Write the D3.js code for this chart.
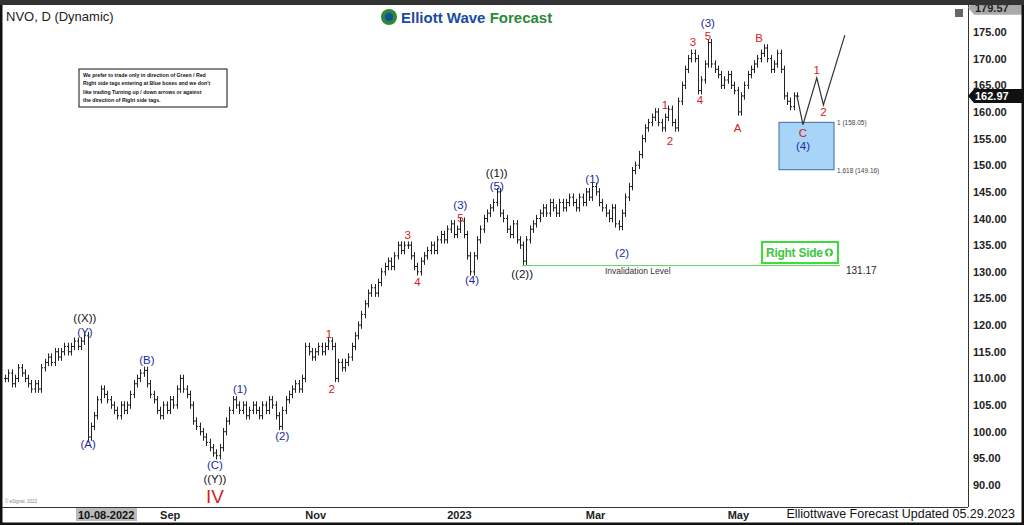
<!DOCTYPE html><html><head><meta charset="utf-8">
<script src="https://cdn.jsdelivr.net/npm/d3@7"></script>
<style>body{margin:0;background:#fff}svg{display:block;font-family:Arial,"Liberation Sans",sans-serif}</style></head><body>
<svg id="c" width="1024" height="525"></svg>
<script>
const closes=[110,111,109,110,112,111,110,109,108,109,108,
112,113,114,113,115,114,115,116,115,116,117,116,117,118,99,
101,103,106,108,107,106,105,104,103,105,
104,105,107,109,110,111,111.5,109,107,
106,104,103,105,104,106,105,108,110,108,
107,105,102,101,100,99,98,97,96,95.5,97,
100,102,104,106,105,104,105,103,104,105,
104,103,105,104,106,105,103,101,104,
106,107,108,109,108,110,116,115,
114,115,116,115,116,117,116,
110,113,112,113,114,
116,118,120,122,124,126,127,126,128,130,131,132,131,133,135,134,135,135,133,131,130,
132,133,134,135,134,136,137,136,138,139,137,138,139.5,137,
133,130,133,
136,138,140,141,142,143,145,141,
140,138,137,139,136,135,132,
136,138,139,140,141,142,141,143,142,141,143,142,143,144,143,142,144,143,145,144,146,145,143,
142,141,140,142,139,138.5,
141,144,146,149,150,152,155,157,158,159,160,158,157,159,160.5,158,157,
162,165,168,170,171,170,164,
166,169,173,
169,168,167,165,166,167,165,164,160,163,165,
167,168,169,170,171,172,170,168,
169,171,168,163,162,161,163,162.97];
const priceTicks=d3.range(90,176,5);
const dateTicks=[{i:47,t:"Sep"},{i:91,t:"Nov"},{i:134,t:"2023"},{i:176,t:"Mar"},{i:219,t:"May"}];
const waveLabels=[
["((X))",24.2,121.2,"k"],["(Y)",24.2,118.6,"b"],["(A)",25.2,97.6,"b"],["(B)",43,113.2,"b"],
["(1)",71.2,107.8,"b"],["(2)",84,99.0,"b"],["(C)",63.6,93.6,"b"],["((Y))",63.6,91.0,"k"],
["1",98.2,118.2,"r"],["2",99,107.8,"r"],["3",122,136.8,"r"],["4",125,128.0,"r"],
["(3)",138,142.4,"b"],["5",138,140.0,"r"],["(4)",141.5,128.3,"b"],["((1))",149,148.4,"k"],
["(5)",149,145.9,"b"],["((2))",156.7,129.4,"k"],["(1)",178,147.2,"b"],["(2)",187,133.3,"b"],
["1",200,161.2,"r"],["2",201.5,154.3,"r"],["3",208.5,172.9,"r"],["(3)",213,176.5,"b"],
["5",213,174.1,"r"],["4",210.6,162.0,"r"],["A",222,156.8,"r"],["B",228.5,173.7,"r"],
["1",246,167.7,"r"],["2",248,159.8,"r"],["C",241.8,155.9,"r"],["(4)",241.8,153.5,"b"]];
const projection=[[240,162.97],[241.8,157.6],[246,166.4],[248,161.3],[254.5,174.4]];
const boxTop=158.05, boxBot=149.16, invalid=131.17, lastPrice=162.97, hiPrice=179.57;
const col={b:"#1c2a9c",r:"#d42020",k:"#111"};
const AX=968;

const svg=d3.select("#c");
const x=d3.scaleLinear().domain([0,253]).range([5,839.9]);
const y=d3.scaleLinear().domain([90,175]).range([485,32]);
svg.append("rect").attr("width",1024).attr("height",525).attr("fill","#fff");
const g=svg.append("g");
closes.forEach((c,i)=>{
  const o=i?closes[i-1]:c; const hi=Math.max(o,c)+0.7, lo=Math.min(o,c)-0.7;
  const X=Math.round(x(i))+0.5;
  g.append("line").attr("x1",X).attr("x2",X).attr("y1",y(hi)).attr("y2",y(lo)).attr("stroke","#222").attr("stroke-width",1);
  g.append("line").attr("x1",X-1.5).attr("x2",X).attr("y1",y(o)).attr("y2",y(o)).attr("stroke","#222");
  g.append("line").attr("x1",X).attr("x2",X+1.5).attr("y1",y(c)).attr("y2",y(c)).attr("stroke","#222");
});
g.append("line").attr("x1",x(156.7)).attr("x2",840).attr("y1",y(invalid)).attr("y2",y(invalid)).attr("stroke","#5cd65c").attr("stroke-width",1);
g.append("text").attr("x",605).attr("y",y(invalid)+8).attr("font-size",8.5).attr("fill","#333").text("Invalidation Level");
g.append("text").attr("x",846).attr("y",y(invalid)+8).attr("font-size",10).attr("fill","#222").text(invalid.toFixed(2));
g.append("rect").attr("x",779).attr("y",y(boxTop)).attr("width",55).attr("height",y(boxBot)-y(boxTop)).attr("fill","#a8d4f7").attr("stroke","#3a6ea5");
g.append("text").attr("x",837).attr("y",y(boxTop)+3).attr("font-size",6.5).attr("fill","#444").text(`1 (${boxTop.toFixed(2)})`);
g.append("text").attr("x",837).attr("y",y(boxBot)+3).attr("font-size",6.5).attr("fill","#444").text(`1.618 (${boxBot.toFixed(2)})`);
g.append("path").attr("d",d3.line().x(d=>x(d[0])).y(d=>y(d[1]))(projection)).attr("fill","none").attr("stroke","#333").attr("stroke-width",1.2);
waveLabels.forEach(([t,i,p,c])=>g.append("text").attr("x",x(i)).attr("y",y(p)).attr("text-anchor","middle").attr("dominant-baseline","middle").attr("font-size",11.5).attr("fill",col[c]).text(t));
g.append("text").attr("x",x(63.6)).attr("y",y(87.6)).attr("text-anchor","middle").attr("dominant-baseline","middle").attr("font-size",19).attr("fill","#d42020").text("IV");
g.append("rect").attr("x",762).attr("y",242).attr("width",76).attr("height",21).attr("fill","#fff").attr("stroke","#3ddc3d").attr("stroke-width",2);
g.append("text").attr("x",766).attr("y",257).attr("font-size",12).attr("font-weight","bold").attr("fill","#3ac83a").attr("textLength",57).text("Right Side");
g.append("circle").attr("cx",829).attr("cy",252.5).attr("r",4).attr("fill","#3ac83a");
g.append("path").attr("d","M829,249.3 L831.8,252.8 L830.1,252.8 L830.1,255.8 L827.9,255.8 L827.9,252.8 L826.2,252.8Z").attr("fill","#fff");
g.append("rect").attr("x",79).attr("y",69).attr("width",148).attr("height",38).attr("fill","#fff").attr("stroke","#111");
["We prefer to trade only in direction of Green / Red","Right side tags entering at Blue boxes and we don't","like trading Turning up / down arrows or against","the direction of Right side tags."].forEach((s,k)=>
 g.append("text").attr("x",83).attr("y",77+k*8.3).attr("font-size",5.2).attr("font-weight","bold").attr("fill","#111").text(s));
svg.append("text").attr("x",6).attr("y",21).attr("font-size",13).attr("fill","#222").text("NVO, D (Dynamic)");
svg.append("circle").attr("cx",389).attr("cy",17).attr("r",8).attr("fill","#2a8a3a");
svg.append("circle").attr("cx",389).attr("cy",17).attr("r",4).attr("fill","#1a4c9c");
svg.append("text").attr("x",401).attr("y",23).attr("font-size",15).attr("font-weight","bold").attr("fill","#1a4c9c").text("Elliott Wave ").append("tspan").attr("fill","#2a8a3a").text("Forecast");
svg.append("line").attr("x1",AX+0.5).attr("x2",AX+0.5).attr("y1",5).attr("y2",507).attr("stroke","#333");
priceTicks.forEach(p=>svg.append("text").attr("x",AX+5).attr("y",y(p)+4).attr("font-size",11).attr("font-weight","bold").attr("fill","#222").text(p.toFixed(2)));
svg.append("path").attr("d",`M${AX},${y(hiPrice)} l6,-7 h48 v14 h-48z`).attr("fill","#aaa");
svg.append("text").attr("x",AX+7).attr("y",y(hiPrice)+4).attr("font-size",11).attr("font-weight","bold").attr("fill","#222").text(hiPrice.toFixed(2));
svg.append("path").attr("d",`M${AX},${y(lastPrice)} l6,-7 h48 v14 h-48z`).attr("fill","#111");
svg.append("text").attr("x",AX+7).attr("y",y(lastPrice)+4).attr("font-size",11).attr("font-weight","bold").attr("fill","#fff").text(lastPrice.toFixed(2));
svg.append("rect").attr("x",955).attr("y",9).attr("width",8).attr("height",8).attr("fill","#666");
svg.append("line").attr("x1",2).attr("x2",AX).attr("y1",507.5).attr("y2",507.5).attr("stroke","#333");
svg.append("rect").attr("x",76).attr("y",508).attr("width",61).attr("height",13).attr("fill","#bbb");
svg.append("text").attr("x",78).attr("y",519).attr("font-size",11).attr("font-weight","bold").attr("fill","#111").text("10-08-2022");
dateTicks.forEach(d=>svg.append("text").attr("x",x(d.i)).attr("y",519).attr("font-size",11).attr("font-weight","bold").attr("fill","#222").text(d.t));
svg.append("text").attr("x",1015).attr("y",518).attr("text-anchor","end").attr("font-size",12.5).attr("fill","#111").text("Elliottwave Forecast Updated 05.29.2023");
svg.append("text").attr("x",5).attr("y",503).attr("font-size",4.5).attr("fill","#888").text("© eSignal, 2023");
svg.append("rect").attr("x",1).attr("y",1).attr("width",1022).attr("height",523).attr("fill","none").attr("stroke","#111").attr("stroke-width",3);
svg.append("rect").attr("x",0).attr("y",0).attr("width",1024).attr("height",5).attr("fill","#333");
</script></body></html>
